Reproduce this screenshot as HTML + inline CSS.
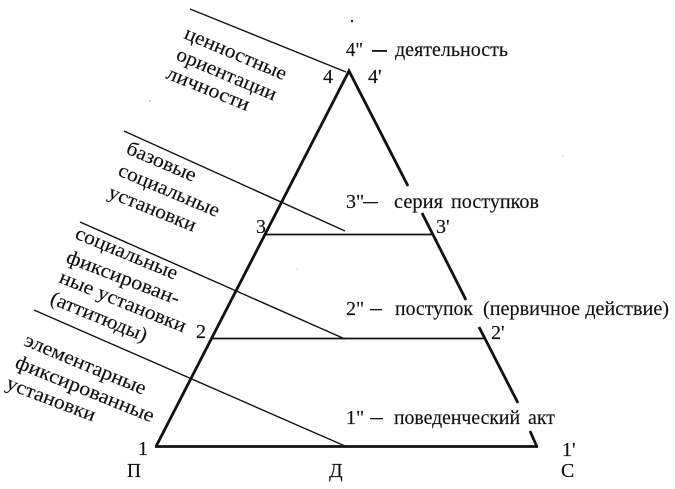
<!DOCTYPE html>
<html><head><meta charset="utf-8">
<style>
html,body{margin:0;padding:0;background:#fff}
svg{display:block}
text{font-family:"Liberation Serif","DejaVu Serif",serif;fill:#111;font-size:20px;stroke:#111;stroke-width:.15px}
</style></head><body>
<svg width="675" height="489" viewBox="0 0 675 489" xmlns="http://www.w3.org/2000/svg">
<g stroke="#111" fill="none">
<path d="M156 446.5 L349 71 L408 186 M422 213 L466 300 M479 327 L518 403 M530 431 L537 447 M155 446.5 H538" stroke-width="2.8"/>
<path d="M265 234.5 H433 M212 338.5 H486" stroke-width="1.8"/>
<path d="M190 9 L346 72 M124 131 L345 231 M80 222 L345 339 M34 310 L345 446" stroke-width="1.4"/>
</g>
<circle cx="352" cy="21" r="1.2" fill="#111"/>
<circle cx="150" cy="101" r=".6" fill="#555"/>
<circle cx="297" cy="269" r=".5" fill="#777"/>
<circle cx="563" cy="156" r=".5" fill="#777"/>

<text x="346" y="56" textLength="17" lengthAdjust="spacingAndGlyphs">4"</text>
<rect x="372" y="50" width="15" height="1.8" fill="#111"/>
<text x="395" y="56" textLength="113" lengthAdjust="spacingAndGlyphs">деятельность</text>
<text x="323" y="83">4</text><text x="368" y="83">4'</text>

<text x="346" y="208">3"</text>
<rect x="363" y="202" width="15" height="1.3" fill="#111"/>
<text x="394" y="208" textLength="49" lengthAdjust="spacingAndGlyphs">серия</text>
<text x="451" y="208" textLength="88" lengthAdjust="spacingAndGlyphs">поступков</text>
<text x="256" y="233">3</text><text x="436" y="233">3'</text>

<text x="346" y="315">2"</text>
<rect x="370" y="309" width="12" height="1.3" fill="#111"/>
<text x="395" y="315" textLength="78" lengthAdjust="spacingAndGlyphs">поступок</text>
<text x="483" y="315" textLength="186" lengthAdjust="spacingAndGlyphs">(первичное действие)</text>
<text x="196" y="338">2</text><text x="491" y="339">2'</text>

<text x="346" y="424">1"</text>
<rect x="370" y="418" width="13" height="1.3" fill="#111"/>
<text x="394" y="424" textLength="126" lengthAdjust="spacingAndGlyphs">поведенческий</text>
<text x="528" y="424" textLength="27" lengthAdjust="spacingAndGlyphs">акт</text>
<text x="138" y="455">1</text><text x="562" y="456">1'</text>
<text x="127" y="477" textLength="14" lengthAdjust="spacingAndGlyphs">П</text><text x="329" y="477">Д</text><text x="561" y="477">С</text>

<text transform="translate(183,38) rotate(22.8)" textLength="109" lengthAdjust="spacingAndGlyphs">ценностные</text>
<text transform="translate(175,59) rotate(23)" textLength="107" lengthAdjust="spacingAndGlyphs">ориентации</text>
<text transform="translate(165,78) rotate(22)" textLength="88" lengthAdjust="spacingAndGlyphs">личности</text>
<text transform="translate(125,153) rotate(23)" textLength="74" lengthAdjust="spacingAndGlyphs">базовые</text>
<text transform="translate(117,175) rotate(23)" textLength="108" lengthAdjust="spacingAndGlyphs">социальные</text>
<text transform="translate(107,197) rotate(22)" textLength="93" lengthAdjust="spacingAndGlyphs">установки</text>
<text transform="translate(74,238) rotate(22.6)" textLength="109" lengthAdjust="spacingAndGlyphs">социальные</text>
<text transform="translate(65,262) rotate(21)" textLength="120" lengthAdjust="spacingAndGlyphs">фиксирован-</text>
<text transform="translate(58,282) rotate(22)" textLength="135" lengthAdjust="spacingAndGlyphs">ные установки</text>
<text transform="translate(49,303) rotate(22.3)" textLength="103" lengthAdjust="spacingAndGlyphs">(аттитюды)</text>
<text transform="translate(23,345) rotate(22.6)" textLength="130" lengthAdjust="spacingAndGlyphs">элементарные</text>
<text transform="translate(14,367) rotate(22)" textLength="148" lengthAdjust="spacingAndGlyphs">фиксированные</text>
<text transform="translate(5,388) rotate(21)" textLength="94" lengthAdjust="spacingAndGlyphs">установки</text>
</svg>
</body></html>
